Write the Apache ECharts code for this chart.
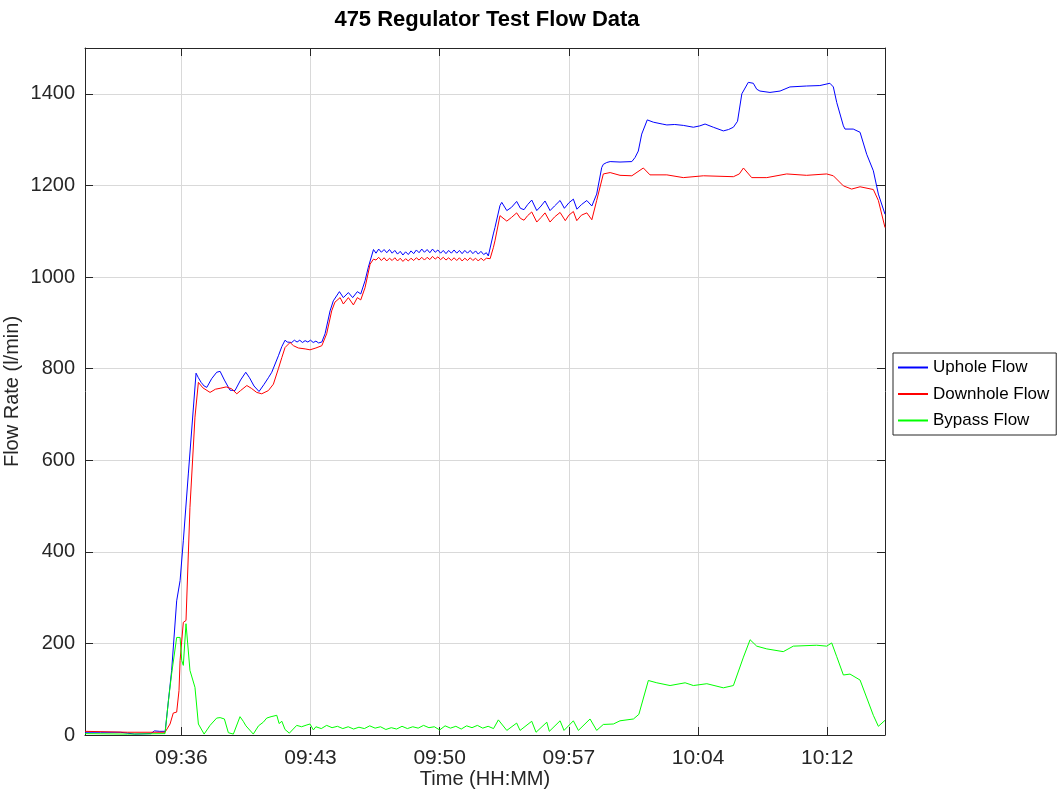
<!DOCTYPE html>
<html>
<head>
<meta charset="utf-8">
<script src="https://cdn.jsdelivr.net/npm/echarts@6/dist/echarts.min.js"></script>
<style>html,body{margin:0;padding:0;background:#fff}#chart{width:1059px;height:794px}</style>
</head>
<body>
<div id="chart"></div>
<script>
// Time in minutes after 09:00, flow in l/min
const timeTicks = [36, 43.2, 50.4, 57.6, 64.8, 72];
const flowTicksMax = 1500;
const seriesNames = ['Uphole Flow', 'Downhole Flow', 'Bypass Flow'];

const upholeTime = [30.63,31.5,32.6,33.4,34.3,34.5,34.8,35.1,35.28,35.46,35.74,35.93,36.11,36.39,36.67,36.82,36.95,37.1,37.27,37.42,37.69,37.97,38.16,38.4,38.71,38.99,39.3,39.59,39.8,40.05,40.33,40.6,40.85,41.04,41.13,41.41,41.6,41.78,41.9,42.0,42.15,42.3,42.45,42.6,42.75,42.9,43.05,43.2,43.35,43.5,43.65,43.83,44.01,44.29,44.47,44.81,45.03,45.31,45.55,45.81,46.0,46.24,46.42,46.71,46.85,47.0,47.15,47.3,47.45,47.6,47.75,47.9,48.05,48.2,48.35,48.5,48.65,48.8,48.95,49.1,49.25,49.4,49.55,49.7,49.85,50.0,50.15,50.3,50.45,50.6,50.75,50.9,51.05,51.2,51.35,51.5,51.65,51.8,51.95,52.1,52.25,52.4,52.55,52.7,52.85,53.0,53.11,53.39,53.48,53.76,53.86,53.95,54.14,54.4,54.69,54.9,55.1,55.3,55.53,55.81,56.05,56.27,56.55,56.8,57.11,57.35,57.6,57.85,58.05,58.3,58.6,58.88,59.15,59.43,59.52,59.71,59.9,60.45,61.11,61.29,61.47,61.66,61.97,62.31,62.8,63.06,63.5,63.98,64.54,64.9,65.19,65.65,66.21,66.5,66.77,67.0,67.24,67.6,67.88,68.07,68.25,68.81,69.37,69.92,70.85,71.59,72.15,72.34,72.53,72.9,72.99,73.45,73.83,74.2,74.57,74.85,75.22];
const upholeFlow = [6,6,6,2,3,9,8,8,75,141,293,337,424,570,714,790,780,770,762,759,778,792,794,775,753,752,775,792,780,762,750,765,780,792,793,828,848,862,858,862,857,862,858,862,857,861,858,862,857,860,856,858,876,926,948,968,955,966,955,968,963,992,1021,1060,1052,1061,1054,1060,1053,1060,1052,1058,1050,1056,1048,1055,1049,1057,1051,1059,1053,1061,1054,1060,1053,1061,1054,1059,1052,1058,1051,1058,1052,1059,1052,1058,1051,1058,1052,1058,1051,1057,1050,1056,1049,1053,1046,1094,1108,1156,1163,1163,1145,1152,1165,1150,1147,1158,1168,1145,1155,1166,1145,1155,1167,1150,1162,1170,1148,1158,1167,1155,1181,1239,1246,1250,1252,1251,1252,1261,1275,1312,1343,1338,1334,1332,1333,1331,1327,1330,1334,1327,1319,1322,1327,1340,1400,1425,1423,1410,1406,1403,1406,1415,1417,1418,1423,1415,1381,1330,1323,1323,1316,1268,1232,1181,1137];

const downholeTime = [30.63,33.0,35.09,35.37,35.55,35.74,35.87,35.93,36.11,36.26,36.48,36.76,36.95,37.2,37.6,37.9,38.16,38.5,38.8,39.09,39.3,39.65,39.9,40.2,40.48,40.85,41.13,41.41,41.6,41.78,42.06,42.25,42.52,42.9,43.17,43.5,43.83,44.1,44.38,44.56,44.85,45.03,45.31,45.59,45.81,46.0,46.24,46.52,46.71,46.85,47.0,47.15,47.3,47.45,47.6,47.75,47.9,48.05,48.2,48.35,48.5,48.65,48.8,48.95,49.1,49.25,49.4,49.55,49.7,49.85,50.0,50.15,50.3,50.45,50.6,50.75,50.9,51.05,51.2,51.35,51.5,51.65,51.8,51.95,52.1,52.25,52.4,52.55,52.7,52.85,53.0,53.21,53.39,53.48,53.76,53.86,54.14,54.4,54.69,54.9,55.1,55.3,55.53,55.81,56.05,56.27,56.55,56.8,57.11,57.4,57.6,57.85,58.04,58.3,58.6,58.88,59.15,59.52,59.9,60.45,61.11,61.75,62.12,63.06,63.98,65.1,66.77,67.1,67.33,67.79,68.63,69.74,70.85,71.97,72.34,72.9,73.36,73.83,74.57,74.85,75.22];
const downholeFlow = [8,6,6,24,48,50,97,163,246,250,497,694,770,758,748,755,757,760,756,745,752,763,757,748,745,752,766,800,824,846,857,850,845,843,841,845,850,876,926,945,955,941,955,939,955,950,977,1028,1039,1037,1043,1036,1042,1035,1041,1036,1042,1035,1041,1034,1040,1035,1041,1036,1042,1037,1043,1037,1043,1038,1045,1039,1044,1038,1043,1037,1042,1036,1042,1036,1042,1035,1041,1036,1042,1036,1041,1035,1041,1036,1041,1040,1064,1079,1134,1137,1122,1130,1140,1128,1124,1134,1142,1120,1130,1140,1120,1131,1141,1123,1135,1143,1123,1135,1140,1125,1167,1225,1228,1222,1221,1238,1223,1223,1217,1221,1219,1225,1238,1217,1217,1225,1222,1225,1221,1199,1192,1197,1191,1167,1108];

const bypassTime = [30.63,33.0,35.09,35.28,35.46,35.74,35.93,36.02,36.11,36.26,36.48,36.76,36.95,37.27,37.6,37.97,38.16,38.4,38.62,38.9,39.27,39.45,39.6,40.01,40.3,40.57,40.76,41.0,41.32,41.45,41.6,41.78,42.02,42.43,42.7,43.0,43.17,43.36,43.5,43.8,44.1,44.4,44.7,45.0,45.3,45.6,45.9,46.2,46.5,46.8,47.1,47.4,47.7,48.0,48.3,48.6,48.9,49.2,49.5,49.8,50.1,50.4,50.7,51.0,51.3,51.6,51.9,52.2,52.5,52.8,53.1,53.4,53.67,54.14,54.69,54.88,55.53,55.77,56.37,56.51,57.11,57.33,57.85,58.13,58.78,59.15,59.52,60.08,60.45,61.2,61.5,62.03,62.5,63.24,64.08,64.54,65.29,66.21,66.77,67.33,67.7,68.07,68.63,69.55,70.11,71.41,71.97,72.25,72.53,72.9,73.27,73.83,74.57,74.85,75.22];
const bypassFlow = [3,2,3,75,134,213,213,163,152,243,141,104,24,2,21,37,38,35,5,2,40,30,20,2,20,28,37,40,43,25,30,12,4,21,18,22,24,11,18,14,21,16,19,14,18,13,17,14,20,15,18,12,16,13,19,14,18,15,21,16,18,11,20,15,19,13,20,16,21,15,19,14,33,10,26,10,30,6,28,8,31,10,31,10,35,10,23,24,31,35,45,119,114,108,114,108,112,103,108,170,208,194,188,182,194,196,194,201,171,131,133,120,43,19,32];

function pairs(t, v) { return t.map((x, i) => [x, v[i]]); }
function fmtTime(m) {
  const mm = Math.floor(m + 1e-6);
  const h = 9 + Math.floor(mm / 60);
  const mi = mm % 60;
  return String(h).padStart(2, '0') + ':' + String(mi).padStart(2, '0');
}

const FONT = '"Liberation Sans", Arial, sans-serif';
const AX = '#262626';
const xMin = 30.63, xMax = 75.22;

const chart = echarts.init(document.getElementById('chart'), null, { renderer: 'canvas' });
const xCommon = {
  type: 'value', min: xMin, max: xMax,
  axisLine: { show: true, onZero: false, lineStyle: { color: AX, width: 1 } },
  axisTick: { show: true, inside: true, length: 8, customValues: timeTicks, lineStyle: { color: AX } },
  splitLine: { show: false }
};
const yCommon = {
  type: 'value', min: 0, max: flowTicksMax, interval: 200,
  axisLine: { show: true, lineStyle: { color: AX, width: 1 } },
  axisTick: { show: true, inside: true, length: 8, lineStyle: { color: AX } }
};
chart.setOption({
  animation: false,
  backgroundColor: '#fff',
  title: {
    text: '475 Regulator Test Flow Data',
    left: 482, top: 4, textAlign: 'center',
    textStyle: { fontFamily: FONT, fontSize: 22, fontWeight: 'bold', color: '#000' }
  },
  grid: { left: 85, top: 48, right: 174, bottom: 59, containLabel: false, outerBoundsMode: 'none' },
  legend: {
    data: seriesNames,
    orient: 'vertical', left: 893, top: 353,
    padding: [6, 7, 6, 4], itemGap: 9.5, itemWidth: 30, itemHeight: 17,
    borderColor: '#262626', borderWidth: 1, backgroundColor: '#fff',
    itemStyle: { opacity: 0, borderWidth: 0 },
    textStyle: { fontFamily: FONT, fontSize: 17, color: '#000' }
  },
  xAxis: [
    Object.assign({}, xCommon, {
      position: 'bottom',
      name: 'Time (HH:MM)', nameLocation: 'middle', nameGap: 34, nameMoveOverlap: false,
      nameTextStyle: { fontFamily: FONT, fontSize: 20, color: AX },
      axisLabel: { show: true, margin: 13, customValues: timeTicks, formatter: fmtTime,
        fontFamily: FONT, fontSize: 21, color: AX },
      splitLine: { show: true, lineStyle: { color: '#d9d9d9', width: 1 } }
    }),
    Object.assign({}, xCommon, { position: 'top', axisLabel: { show: false } })
  ],
  yAxis: [
    Object.assign({}, yCommon, {
      position: 'left',
      name: 'Flow Rate (l/min)', nameLocation: 'middle', nameGap: 63, nameMoveOverlap: false,
      nameTextStyle: { fontFamily: FONT, fontSize: 20, color: AX },
      axisLabel: { show: true, margin: 10, showMaxLabel: false, formatter: v => String(v),
        fontFamily: FONT, fontSize: 20, color: AX },
      splitLine: { show: true, lineStyle: { color: '#d9d9d9', width: 1 } }
    }),
    Object.assign({}, yCommon, { position: 'right', axisLabel: { show: false }, splitLine: { show: false } })
  ],
  series: [
    { name: seriesNames[0], type: 'line', data: pairs(upholeTime, upholeFlow), symbol: 'none', color: '#0000ff', lineStyle: { width: 1, color: '#0000ff' } },
    { name: seriesNames[1], type: 'line', data: pairs(downholeTime, downholeFlow), symbol: 'none', color: '#ff0000', lineStyle: { width: 1, color: '#ff0000' } },
    { name: seriesNames[2], type: 'line', data: pairs(bypassTime, bypassFlow), symbol: 'none', color: '#00ff00', lineStyle: { width: 1, color: '#00ff00' } }
  ]
});
</script>
</body>
</html>
